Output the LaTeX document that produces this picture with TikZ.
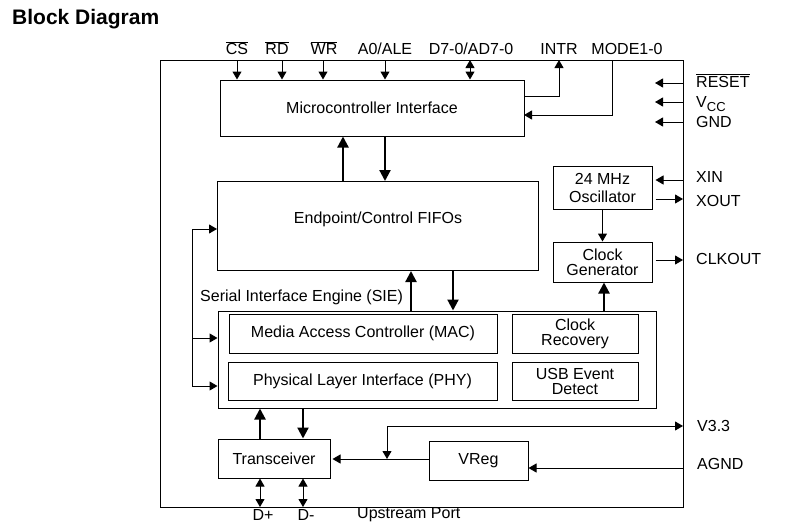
\documentclass[tikz,border=0pt]{standalone}
\usepackage{fontspec}
\setmainfont{Liberation Sans}
\usetikzlibrary{arrows.meta}
\begin{document}
\begin{tikzpicture}[x=1pt,y=-1pt,
  every node/.style={font=\fontsize{16}{18}\selectfont, inner sep=0pt},
  blk/.style 2 args={draw, line width=1pt, minimum width=#1, minimum height=#2, align=center},
  thin/.style={line width=1pt, -{Triangle[length=8pt,width=9pt]}},
  thinboth/.style={line width=1pt, {Triangle[length=8pt,width=9pt]}-{Triangle[length=8pt,width=9pt]}},
  thick/.style={line width=2.2pt, -{Triangle[length=11pt,width=11pt]}},
  lbl/.style={anchor=base west},
  toplbl/.style={anchor=base}]
\useasboundingbox (0,0) rectangle (786,527);
\fill[white] (0,0) rectangle (786,527);

% title
\node[anchor=base west, font=\bfseries\fontsize{21}{24}\selectfont] (title) at (12,25) {Block Diagram};

% chip outline
\node[draw, line width=1pt, minimum width=523pt, minimum height=447pt] (chip) at (421.5,283.5) {};

% blocks
\node[blk={304pt}{56pt}] (mci) at (372,108) {Microcontroller Interface};
\node[blk={321pt}{89pt}] (fifo) at (378,226) {};
\node (fifolbl) at (378,219) {Endpoint/Control FIFOs};
\node[blk={438pt}{97pt}] (sie) at (437,359.5) {};
\node[anchor=base west] (sielbl) at (200,301) {Serial Interface Engine (SIE)};
\node[blk={268pt}{39pt}] (mac) at (363,333.5) {Media Access Controller (MAC)};
\node[blk={269pt}{38pt}] (phy) at (362.5,381) {Physical Layer Interface (PHY)};
\node[blk={126pt}{39pt}, font=\fontsize{16}{15}\selectfont] (crec) at (575,333.5) {Clock\\Recovery};
\node[blk={126pt}{38pt}, font=\fontsize{16}{15}\selectfont] (usb) at (575,381) {USB Event\\Detect};
\node[blk={99pt}{43pt}] (osc) at (602.5,187.5) {24 MHz\\Oscillator};
\node[blk={99pt}{40pt}, font=\fontsize{16}{15}\selectfont] (cgen) at (602.5,262) {Clock\\Generator};
\node[blk={112pt}{39pt}] (trans) at (274,458.5) {Transceiver};
\node[blk={99pt}{39pt}] (vreg) at (478.5,460.5) {VReg};

% top pins
\coordinate (cs) at (237,60);
\coordinate (rd) at (282,60);
\coordinate (wr) at (323,60);
\coordinate (ale) at (385,60);
\coordinate (dat) at (470,60);
\coordinate (intr) at (559,60);
\coordinate (mode) at (612,60);
\draw[thin] (cs) -- (cs |- mci.north);
\draw[thin] (rd) -- (rd |- mci.north);
\draw[thin] (wr) -- (wr |- mci.north);
\draw[thin] (ale) -- (ale |- mci.north);
\draw[thinboth] (dat) -- (dat |- mci.north);
\coordinate (introut) at (524,96);
\coordinate (modein) at (524,115);
\draw[thin] (introut) -- (introut -| intr) -- (intr);
\draw[thin] (mode) -- (mode |- modein) -- (modein);

\node[toplbl] (cslbl) at (237,55) {$\overline{\mbox{CS}}$};
\node[toplbl] (rdlbl) at (277,55) {$\overline{\mbox{RD}}$};
\node[toplbl] (wrlbl) at (324,55) {$\overline{\mbox{WR}}$};
\node[toplbl] (alelbl) at (385,55) {A0/ALE};
\node[toplbl] (datlbl) at (471,55) {D7-0/AD7-0};
\node[toplbl] (intrlbl) at (559,55) {INTR};
\node[toplbl] (modelbl) at (627,55) {MODE1-0};

% right pins
\coordinate (reset) at (683,83);
\coordinate (vcc) at (683,102);
\coordinate (gnd) at (683,122);
\draw[thin] (reset) -- ++(-28,0) coordinate (resetin);
\draw[thin] (vcc) -- ++(-28,0) coordinate (vccin);
\draw[thin] (gnd) -- ++(-28,0) coordinate (gndin);
\node[lbl] (resetlbl) at (696,87) {$\overline{\mbox{RESET}}$};
\node[lbl] (vcclbl) at (696,107) {V\raisebox{-0.5ex}{\fontsize{13}{14}\selectfont CC}};
\node[lbl] (gndlbl) at (696,127) {GND};

\coordinate (xin) at (683,180);
\coordinate (xout) at (683,199);
\coordinate (clkout) at (683,260);
\draw[thin, shorten >=3pt] (xin) -- (xin -| osc.east);
\draw[thin, shorten <=3pt] (xout -| osc.east) -- (xout);
\draw[thin, shorten <=3pt] (clkout -| cgen.east) -- (clkout);
\node[lbl] (xinlbl) at (696,182) {XIN};
\node[lbl] (xoutlbl) at (696,206) {XOUT};
\node[lbl] (clkoutlbl) at (696,264) {CLKOUT};

% internal connections
\draw[thin] (osc.south) -- (cgen.north);
\draw[thick] ([xshift=1.5pt]sie.north -| cgen.south) -- ([xshift=1.5pt]cgen.south);
\coordinate (mfup) at (343,0);
\coordinate (mfdn) at (385,0);
\coordinate (fsup) at (411,0);
\coordinate (fsdn) at (453,0);
\coordinate (stup) at (260,0);
\coordinate (stdn) at (303,0);
\draw[thick] (mfup |- fifo.north) -- (mfup |- mci.south);
\draw[thick] (mfdn |- mci.south) -- (mfdn |- fifo.north);
\draw[thick] (fsup |- sie.north) -- (fsup |- fifo.south);
\draw[thick] (fsdn |- fifo.south) -- (fsdn |- sie.north);

% left bus
\coordinate (b1) at (192,229);
\coordinate (b2) at (192,338);
\coordinate (b3) at (192,386);
\draw[thin] (b3) -- (b1) -- (b1 -| fifo.west);
\draw[thin] (b2) -- (b2 -| sie.west);
\draw[thin] (b3) -- (b3 -| sie.west);

% SIE <-> transceiver
\draw[thick] (stup |- trans.north) -- (stup |- sie.south);
\draw[thick] (stdn |- sie.south) -- (stdn |- trans.north);

% D+ D-
\coordinate (dp) at (260,507);
\coordinate (dm) at (303,507);
\draw[thinboth] (dp |- trans.south) -- (dp);
\draw[thinboth] (dm |- trans.south) -- (dm);
\node[anchor=base] (dplbl) at (263,520) {D+};
\node[anchor=base] (dmlbl) at (306,520) {D-};
\node[anchor=base west] (uplbl) at (357,518) {Upstream Port};

% VReg
\coordinate (vtap) at (387,459);
\coordinate (v33) at (683,426);
\coordinate (agnd) at (683,468);
\draw[thin, shorten >=2pt] (vreg.west |- vtap) -- (vtap -| trans.east);
\draw[thinboth] (vtap) -- (vtap |- v33) -- (v33);
\draw[thin] (agnd) -- (agnd -| vreg.east);
\node[lbl] (v33lbl) at (697,431) {V3.3};
\node[lbl] (agndlbl) at (697,469) {AGND};
\end{tikzpicture}
\end{document}
